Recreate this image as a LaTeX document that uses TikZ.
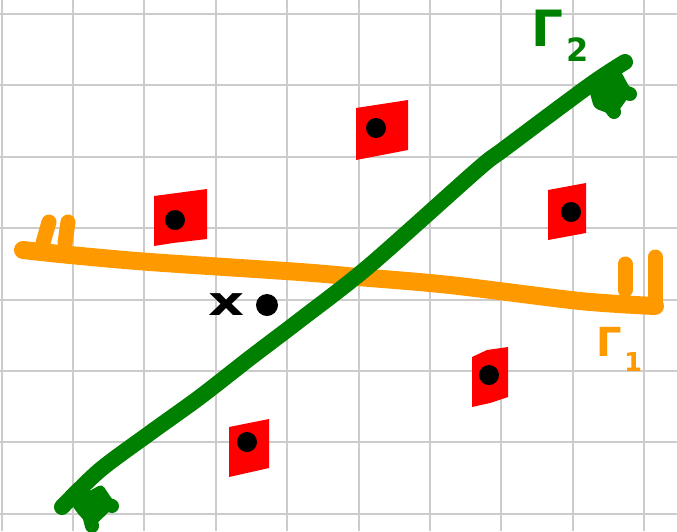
\documentclass[tikz,border=0pt]{standalone}
\usepackage{fontspec}
\setmainfont{DejaVu Sans}
\usepackage{graphicx}
\definecolor{gammaorange}{RGB}{255,153,0}
\definecolor{gammagreen}{RGB}{0,128,0}
\definecolor{ptred}{RGB}{255,0,0}
\definecolor{gridgray}{RGB}{204,204,204}

\begin{document}
\begin{tikzpicture}[x=1pt,y=-1pt,
      gridline/.style={draw=gridgray,line width=2pt},
      orangeline/.style={draw=gammaorange,line width=18pt,line cap=round,line join=round},
      orangetick/.style={draw=gammaorange,line width=15pt,line cap=round},
      greenline/.style={draw=gammagreen,line width=16pt,line cap=round,line join=round},
      greenfinger/.style={draw=gammagreen,line width=14pt,line cap=round},
      redpt/.style={fill=ptred},
      dotpt/.style={fill=black},
      lbl/.style={inner sep=0pt,anchor=north west,font=\bfseries},
    ]
      \useasboundingbox (0,0) rectangle (677,531);
      \fill[white] (0,0) rectangle (677,531);

      % Grid
      \foreach \i in {0,...,9}
        \draw[gridline] ({1.5+71.4*\i},0) -- ({1.5+71.4*\i},531);
      \foreach \j in {0,...,7}
        \draw[gridline] (0,{14+71.4*\j}) -- (677,{14+71.4*\j});

      % Points (red squares with a dot)
      \fill[redpt] (154,196) -- (207,189) -- (207,239) -- (173,243) -- (154,246) -- cycle;
      \fill[redpt] (356,108) -- (408,100) -- (408,150) -- (356,160) -- cycle;
      \fill[redpt] (548,190) -- (586,183) -- (586,233) -- (548,240) -- cycle;
      \fill[redpt] (229,427) -- (269,419) -- (269,468) -- (229,477) -- cycle;
      \fill[redpt] (472,357) -- (487,350) -- (508,347) -- (508,397) -- (490,403) -- (472,407) -- cycle;
      \foreach \px/\py in {175/220, 376/128, 571/212, 247/442, 489/375}
        \fill[dotpt] (\px,\py) circle (10);

      % Gamma 1 (orange)
      \draw[orangeline] plot[smooth] coordinates {(23,250) (70,255) (150,262) (300,272)
        (358,277) (450,285) (580,301) (655,306)};
      \draw[orangetick] (49,222) -- (43,243);
      \draw[orangetick] (68,222) -- (65,243);
      \draw[orangetick] (625,264) -- (625,290);
      \draw[orangetick] (655,257) -- (655,306);

      % Gamma 2 (green)
      \draw[greenline] plot[smooth] coordinates {(62,507) (100,470) (150,433) (200,397)
        (250,358) (300,320) (369,266) (477,170) (504,149) (590,85) (625,62)};
      \fill[gammagreen,rounded corners=4pt] (588,86) -- (618,66) -- (632,92)
        -- (615,116) -- (594,108) -- cycle;
      \draw[greenfinger] (605,85) -- (630,94);
      \draw[greenfinger] (602,95) -- (614,112);
      \fill[gammagreen,rounded corners=4pt] (70,502) -- (102,484) -- (116,505)
        -- (92,528) -- (78,514) -- cycle;
      \draw[greenfinger] (88,497) -- (112,506);
      \draw[greenfinger] (86,503) -- (92,526);

      % Labels
      \node[lbl,text=gammagreen,font=\fontsize{50}{50}\selectfont\bfseries] (g2) at (531,10) {Γ};
      \node[lbl,text=gammagreen,font=\fontsize{32}{32}\selectfont\bfseries] (g2sub) at (566,38) {2};
      \node[lbl,text=gammaorange,font=\fontsize{40}{40}\selectfont\bfseries] (g1) at (596,327) {Γ};
      \node[lbl,text=gammaorange,font=\fontsize{26}{26}\selectfont\bfseries] (g1sub) at (624,352) {1};
      \node[lbl,font=\fontsize{40}{40}\selectfont\bfseries] (xlbl) at (208,293) {\scalebox{1.4}[1]{x}};
      \fill[dotpt] (267,305) circle (11);
    \end{tikzpicture}
\end{document}
